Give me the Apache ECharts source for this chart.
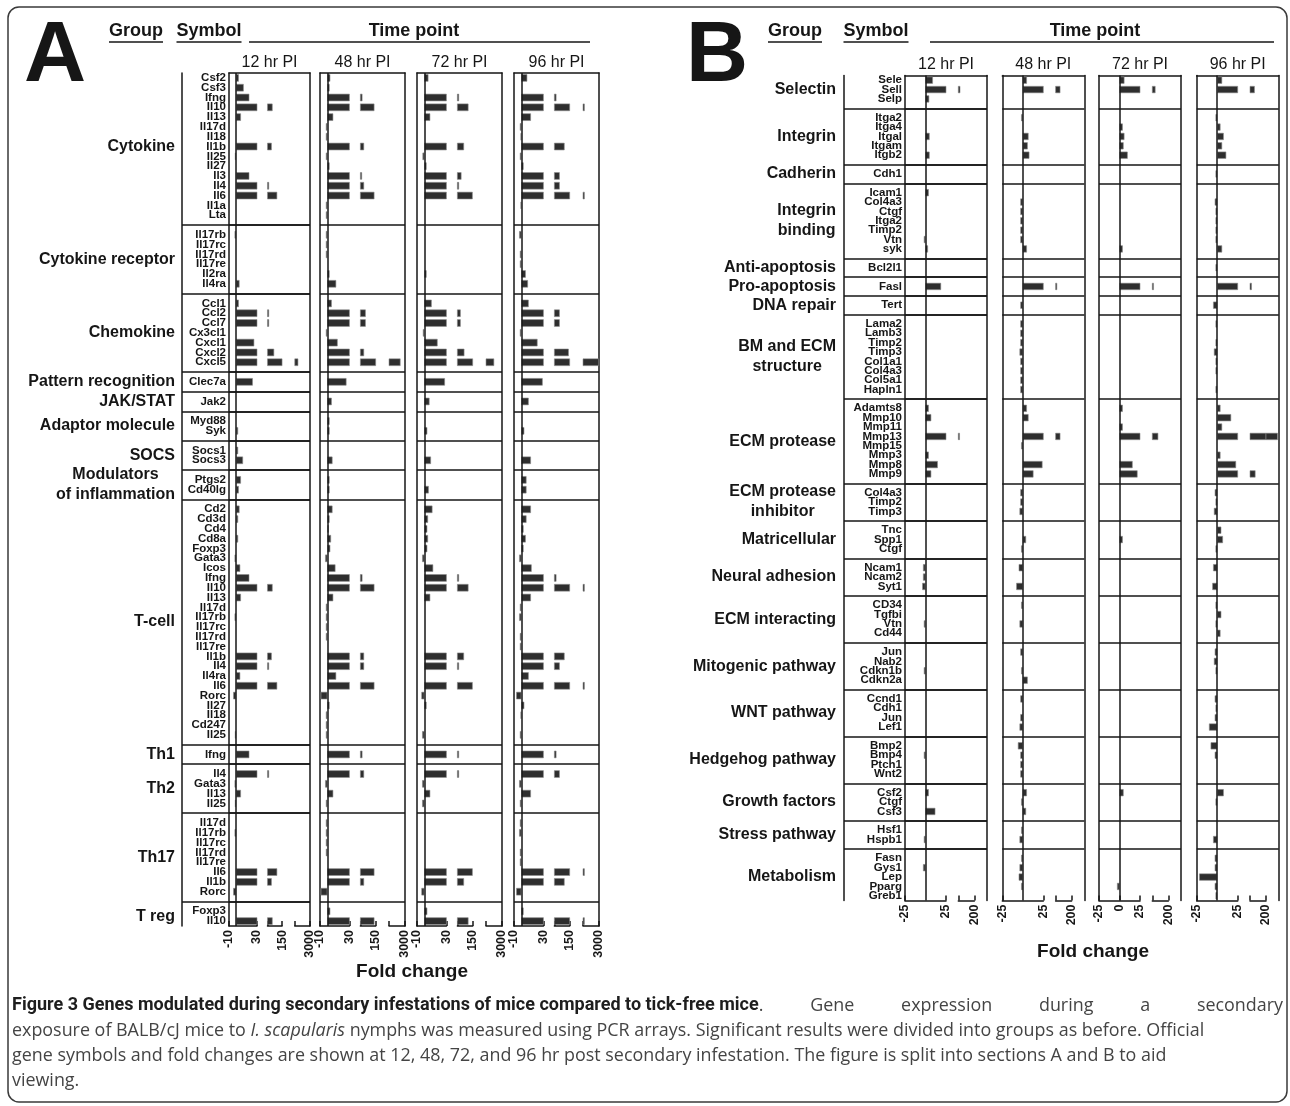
<!DOCTYPE html>
<html>
<head>
<meta charset="utf-8">
<script src="https://cdn.jsdelivr.net/npm/echarts@6/dist/echarts.min.js"></script>
<style>html,body{margin:0;padding:0;background:#fff}#c{width:1290px;height:1106px}</style>
</head>
<body>
<div id="c"></div>
<script>
// ---------------- DATA ----------------
const TIME_POINTS = ['12 hr PI', '48 hr PI', '72 hr PI', '96 hr PI'];

// Panel A
const A_groups = ['Cytokine', 'Cytokine receptor', 'Chemokine', 'Pattern recognition', 'JAK/STAT',
  'Adaptor molecule', 'SOCS', 'Modulators\nof inflammation', 'T-cell', 'Th1', 'Th2', 'Th17', 'T reg'];
const A_groupSizes = [15, 6, 7, 1, 1, 2, 2, 2, 24, 1, 4, 8, 2];
const A_symbols = [
  'Csf2','Csf3','Ifng','Il10','Il13','Il17d','Il18','Il1b','Il25','Il27','Il3','Il4','Il6','Il1a','Lta',
  'Il17rb','Il17rc','Il17rd','Il17re','Il2ra','Il4ra',
  'Ccl1','Ccl2','Ccl7','Cx3cl1','Cxcl1','Cxcl2','Cxcl5',
  'Clec7a',
  'Jak2',
  'Myd88','Syk',
  'Socs1','Socs3',
  'Ptgs2','Cd40lg',
  'Cd2','Cd3d','Cd4','Cd8a','Foxp3','Gata3','Icos','Ifng','Il10','Il13','Il17d','Il17rb','Il17rc','Il17rd','Il17re','Il1b','Il4','Il4ra','Il6','Rorc','Il27','Il18','Cd247','Il25',
  'Ifng',
  'Il4','Gata3','Il13','Il25',
  'Il17d','Il17rb','Il17rc','Il17rd','Il17re','Il6','Il1b','Rorc',
  'Foxp3','Il10'];
const A_12hr = [4, 11, 19, 72, 7, 0, 0, 65, -1.5, 0, 19, 43, 110, 0, 0,
  -2, 0, 0, 0, 0, 5,
  4, 43, 43, 0, 26, 85, 800,
  24,
  0,
  0, 3,
  3, 10,
  7, 4,
  5, 3, 0, 3, 0, -2, 6, 19, 72, 7, 0, -2, 0, 0, 0, 65, 43, 6, 110, -4, 0, 0, 0, -1.5,
  19,
  43, -2, 7, -1.5,
  0, -2, 0, 0, 0, 110, 65, -4,
  0, 72];
const A_48hr = [4, 3, 46, 140, 8, -2, -2, 59, -2, 3, 43, 59, 140, -2, -2,
  -2, -2, -2, 0, 3, 12,
  6, 72, 72, -2, 14, 59, 2200,
  26,
  6,
  3, 3,
  0, 7,
  3, 3,
  7, 3, 2, 5, 4, -3, 11, 46, 140, 8, -2, -2, -2, -2, 0, 59, 59, 12, 140, -9, 3, -2, -2, -2,
  46,
  59, -3, 8, -2,
  -2, -2, -2, -2, 0, 140, 59, -9,
  4, 140];
const A_72hr = [5.5, 0, 43, 117, 8, 0, 0, 82, -2.5, 3, 62, 43, 150, 0, 0,
  0, 0, 0, 0, 3, 0,
  10, 56, 56, -2, 18, 85, 1600,
  28,
  7,
  0, 4,
  0, 9,
  0, 6,
  11, 5, 4, 5, 4, -3, 12, 43, 117, 8, 0, 0, 0, 0, 0, 82, 43, 0, 150, -4, 3, 0, 0, -3,
  43,
  43, -3, 8, -3,
  0, 0, 0, 0, 0, 150, 82, -4,
  4, 117];
const A_96hr = [8, 0, 46, 450, 13, -2, -1, 110, -2, 3, 72, 72, 450, -1, 0,
  -3, 0, -2, -2, 6, 9,
  10, 72, 72, -2, 22, 143, 3000,
  29,
  10,
  0, 4,
  0, 13,
  7, 7,
  13, 7, 3, 6, 3, -3, 14, 46, 450, 13, -2, -3, 0, -2, -2, 110, 72, 10, 450, -7, 4, -1, 0, -2,
  46,
  72, -3, 13, -2,
  -2, -3, 0, -2, -2, 450, 110, -7,
  3, 450];
const A_axisTicks = [-10, 30, 150, 3000];

// Panel B
const B_groups = ['Selectin', 'Integrin', 'Cadherin', 'Integrin\nbinding', 'Anti-apoptosis', 'Pro-apoptosis',
  'DNA repair', 'BM and ECM\nstructure', 'ECM protease', 'ECM protease\ninhibitor', 'Matricellular',
  'Neural adhesion', 'ECM interacting', 'Mitogenic pathway', 'WNT pathway', 'Hedgehog pathway',
  'Growth factors', 'Stress pathway', 'Metabolism'];
const B_groupSizes = [3, 5, 1, 7, 1, 1, 1, 8, 8, 3, 3, 3, 4, 4, 4, 4, 3, 2, 5];
const B_symbols = [
  'Sele','Sell','Selp',
  'Itga2','Itga4','Itgal','Itgam','Itgb2',
  'Cdh1',
  'Icam1','Col4a3','Ctgf','Itga2','Timp2','Vtn','syk',
  'Bcl2l1',
  'Fasl',
  'Tert',
  'Lama2','Lamb3','Timp2','Timp3','Col1a1','Col4a3','Col5a1','Hapln1',
  'Adamts8','Mmp10','Mmp11','Mmp13','Mmp15','Mmp3','Mmp8','Mmp9',
  'Col4a3','Timp2','Timp3',
  'Tnc','Spp1','Ctgf',
  'Ncam1','Ncam2','Syt1',
  'CD34','Tgfbi','Vtn','Cd44',
  'Jun','Nab2','Cdkn1b','Cdkn2a',
  'Ccnd1','Cdh1','Jun','Lef1',
  'Bmp2','Bmp4','Ptch1','Wnt2',
  'Csf2','Ctgf','Csf3',
  'Hsf1','Hspb1',
  'Fasn','Gys1','Lep','Pparg','Greb1'];
const B_12hr = [9, 47, 4.5,
  0, 0, 5, 0, 5,
  0,
  4, 0, 0, 0, 0, -2, 3,
  0,
  19,
  0,
  0, 0, 0, 0, 0, 0, 0, 0,
  4, 7, 0, 42, 0, 4, 15, 7,
  0, 0, 0,
  0, 0, 0,
  -3, -3, -4,
  0, 0, -2, 0,
  0, 0, -2, 0,
  0, 0, 0, 0,
  0, -2, 0, 0,
  4, 0, 12,
  0, -2,
  0, -3, 0, 0, 0];
const B_48hr = [5, 77, 0,
  -2, 0, 7, 6, 8,
  0,
  0, -3, -3, -3, -3, -3, 5,
  0,
  42,
  -3,
  -3, -3, -3, -4, -3, -3, -3, -3,
  5, 7, 0, 77, -2, 0, 24, 13,
  -3, -3, -4,
  0, 4, -2,
  -5, 0, -8,
  -2, 0, -4, 0,
  -3, 0, -2, 6,
  -3, 0, -3, -4,
  -6, -3, -3, -3,
  5, -2, 4,
  -2, -4,
  -2, -4, -5, -2, 0];
const B_72hr = [6, 60, 0,
  0, 4, 6, 5, 10,
  0,
  0, 0, 0, 0, 0, 0, 4,
  0,
  42,
  0,
  0, 0, 0, 0, 0, 0, 0, 0,
  4, 0, 4, 90, 0, 0, 16, 22,
  0, 0, 0,
  0, 4, 0,
  0, 0, 0,
  0, 0, 0, 0,
  0, 0, 0, 0,
  0, 0, 0, 0,
  0, 0, 0, 0,
  5, 0, 0,
  0, 0,
  0, 0, 0, -3, 0];
const B_96hr = [6, 77, 0,
  -2, 4, 8, 6, 11,
  -2,
  0, -3, -2, -2, -2, -2, 6,
  -2,
  45,
  -5,
  -2, 0, -2, -4, -2, -2, 0, -2,
  4, 17, 6, 330, 0, 4, 23, 85,
  -3, -2, -4,
  5, 7, -2,
  -5, 0, -6,
  -2, 5, -2, 4,
  -3, -4, -2, 0,
  -3, -2, -3, -10,
  -8, -3, 0, 0,
  8, -2, 0,
  0, -5,
  -3, -3, -22, -3, -2];
const B_axisTicks = [-25, 25, 200];
const B_extraTick72 = [0];

const CAPTION_BOLD = 'Figure 3 Genes modulated during secondary infestations of mice compared to tick-free mice';
const CAPTION_TAIL1 = '. Gene expression during a secondary';
const CAPTION_LINES = [
  ['exposure of BALB/cJ mice to ', 'I. scapularis', ' nymphs was measured using PCR arrays. Significant results were divided into groups as before. Official'],
  ['gene symbols and fold changes are shown at 12, 48, 72, and 96 hr post secondary infestation. The figure is split into sections A and B to aid'],
  ['viewing.']
];

// ---------------- LAYOUT / STYLE ----------------
const INK = '#161616';
const FONT = "'Liberation Sans', Arial, Helvetica, sans-serif";

const panels = [
  {
    groups: A_groups, sizes: A_groupSizes, symbols: A_symbols,
    values: [A_12hr, A_48hr, A_72hr, A_96hr],
    top: 73, height: 853, symLineX: 182, groupRight: 175,
    colLefts: [229, 320, 417, 514], colWidths: [81, 85, 85, 85],
    segFrac: [[0, 0.346], [0.475, 0.655], [0.812, 1]],
    ticks: A_axisTicks, extraTicks: [[], [], [], []],
    nameGap: 2, labelMargin: 3,
    letter: 'A', letterX: 24,
    headerGroupX: 136, headerSymbolX: 209, headerTimeX: 414, timeLine: [249, 590],
    foldX: 412, foldY: 972
  },
  {
    groups: B_groups, sizes: B_groupSizes, symbols: B_symbols,
    values: [B_12hr, B_48hr, B_72hr, B_96hr],
    top: 75.5, height: 825, symLineX: 844, groupRight: 836,
    colLefts: [905, 1002.3, 1099, 1196.7], colWidths: [82, 82, 82, 82],
    segFrac: [[0, 0.5], [0.65, 0.845], [0.845, 1]],
    ticks: B_axisTicks, extraTicks: [[], [], B_extraTick72, []],
    nameGap: 3, labelMargin: 3,
    letter: 'B', letterX: 686,
    headerGroupX: 795, headerSymbolX: 876, headerTimeX: 1095, timeLine: [930, 1274],
    foldX: 1093, foldY: 952
  }
];

function buildCats(sizes, symbols) {
  const cats = [], rowIdx = [], spacers = [], spans = [];
  let k = 0;
  sizes.forEach((n, g) => {
    const first = cats.length;
    for (let i = 0; i < n; i++) { rowIdx.push(cats.length); cats.push(symbols[k++]); }
    spans.push([first, cats.length - 1]);
    if (g < sizes.length - 1) { spacers.push(cats.length); cats.push(''); }
  });
  return { cats, rowIdx, spacers, spans };
}
function spread(values, L) {
  const arr = L.cats.map(() => '-');
  values.forEach((v, i) => { if (v !== 0) arr[L.rowIdx[i]] = v; });
  return arr;
}
const lineStyle = { color: INK, width: 1.5 };
function sepMarkLine(spacers) {
  return {
    silent: true, symbol: ['none', 'none'], animation: false,
    label: { show: false }, lineStyle: { color: INK, width: 1.5, type: 'solid' },
    emphasis: { disabled: true },
    data: spacers.map(i => ({ yAxis: i }))
  };
}
const zeroMarkLine = {
  silent: true, symbol: ['none', 'none'], animation: false,
  label: { show: false }, lineStyle: { color: INK, width: 1.5, type: 'solid' },
  emphasis: { disabled: true },
  data: [{ xAxis: 0 }]
};

const option = { animation: false, grid: [], xAxis: [], yAxis: [], series: [] };

panels.forEach(P => {
  const L = buildCats(P.sizes, P.symbols);
  P.L = L;
  const hiddenY = (pos) => ({
    type: 'category', data: L.cats, inverse: true, position: pos || 'left',
    axisLine: { show: false, onZero: false }, axisTick: { show: false },
    axisLabel: { show: false }, splitLine: { show: false }
  });
  let gi = option.grid.length;
  option.grid.push({ left: P.symLineX, top: P.top, width: P.colLefts[0] + P.colWidths[0] - P.symLineX, height: P.height });
  option.xAxis.push({ gridIndex: gi, type: 'value', min: 0, max: 1, show: false });
  const ly = option.yAxis.length;
  option.yAxis.push(Object.assign(hiddenY('left'), { gridIndex: gi, axisLine: { show: true, onZero: false, lineStyle } }));
  option.series.push({ type: 'line', xAxisIndex: option.xAxis.length - 1, yAxisIndex: ly, data: L.cats.map(() => '-'), showSymbol: false, silent: true, markLine: sepMarkLine(L.spacers) });
  P.labelYAxis = ly;

  P.values.forEach((vals, c) => {
    const left = P.colLefts[c], w = P.colWidths[c];
    gi = option.grid.length;
    option.grid.push({ left, top: P.top, width: w, height: P.height });
    option.xAxis.push({
      gridIndex: gi, type: 'value', min: 0, max: 1, position: 'top',
      axisLine: { show: true, onZero: false, lineStyle }, axisTick: { show: false }, axisLabel: { show: false },
      splitLine: { show: false }, name: TIME_POINTS[c], nameLocation: 'middle', nameGap: P.nameGap,
      nameTextStyle: { fontFamily: FONT, fontSize: 16, color: INK }
    });
    const fx = option.xAxis.length - 1;
    option.yAxis.push(Object.assign(hiddenY('left'), { gridIndex: gi, axisLine: { show: true, onZero: false, lineStyle } }));
    const fy = option.yAxis.length - 1;
    option.yAxis.push(Object.assign(hiddenY('right'), { gridIndex: gi, axisLine: { show: true, onZero: false, lineStyle } }));
    option.series.push({ type: 'line', xAxisIndex: fx, yAxisIndex: fy, data: L.cats.map(() => '-'), showSymbol: false, silent: true, markLine: sepMarkLine(L.spacers) });

    const data = spread(vals, L);
    P.segFrac.forEach((f, si) => {
      const sg = option.grid.length;
      const sl = left + f[0] * w, sw = (f[1] - f[0]) * w;
      option.grid.push({ left: sl, top: P.top, width: sw, height: P.height });
      let min, max, visible = true, tickVals, labelVals;
      if (si < P.ticks.length - 1) {
        min = P.ticks[si]; max = P.ticks[si + 1];
        tickVals = [min, max].concat(si === 0 ? P.extraTicks[c] : []);
        labelVals = si === 0 ? [min].concat(P.extraTicks[c], [max]) : [max];
      } else {
        const pf = P.segFrac[si - 1];
        const a = P.ticks[P.ticks.length - 2], b = P.ticks[P.ticks.length - 1];
        min = b; max = b + (b - a) * (f[1] - f[0]) / (pf[1] - pf[0]);
        visible = false; tickVals = []; labelVals = [];
      }
      option.xAxis.push({
        gridIndex: sg, type: 'value', min, max, position: 'bottom', show: visible,
        axisLine: { show: true, onZero: false, lineStyle },
        axisTick: { show: true, inside: true, length: 5, customValues: tickVals, lineStyle },
        axisLabel: { show: true, customValues: labelVals, rotate: 90, margin: 4, fontFamily: FONT, fontWeight: 'bold', fontSize: 12.5, color: INK, showMinLabel: true, showMaxLabel: true, formatter: v => String(v) },
        splitLine: { show: false }
      });
      const yax = hiddenY('left');
      yax.gridIndex = sg;
      if (c === 0 && si === 0) {
        yax.axisLabel = { show: true, interval: 0, margin: P.labelMargin, fontFamily: FONT, fontWeight: 'bold', fontSize: 11.5, color: INK, lineHeight: 10 };
      }
      option.yAxis.push(yax);
      option.series.push({
        type: 'bar', xAxisIndex: option.xAxis.length - 1, yAxisIndex: option.yAxis.length - 1,
        data, barWidth: '76%', clip: true, silent: true,
        itemStyle: { color: '#2e2e2e', borderColor: '#8c8c8c', borderWidth: 0.6 },
        markLine: si === 0 ? zeroMarkLine : undefined
      });
    });
  });
});

const chart = echarts.init(document.getElementById('c'), null, { renderer: 'canvas' });
chart.setOption(option);

// ---------------- TEXT (graphic) ----------------
const ctx = document.createElement('canvas').getContext('2d');
const g = [];
g.push({ type: 'rect', shape: { x: 8, y: 7, width: 1279, height: 1095, r: 11 }, style: { fill: 'none', stroke: '#3a3a3a', lineWidth: 1.5 }, z: 0 });

function txt(x, y, text, size, weight, align, extra) {
  return { type: 'text', x, y, z: 10, style: Object.assign({ text, fontFamily: FONT, fontSize: size, fontWeight: weight, fill: INK, align: align || 'center', verticalAlign: 'middle' }, extra || {}) };
}
function hline(x1, x2, y) {
  return { type: 'line', z: 10, shape: { x1, y1: y, x2, y2: y }, style: { stroke: INK, lineWidth: 1.5 } };
}

panels.forEach(P => {
  g.push(txt(P.letterX, 57, P.letter, 86, 'bold', 'left'));
  g.push(txt(P.headerGroupX, 31, 'Group', 18, 'bold'));
  ctx.font = 'bold 18px ' + FONT;
  let w = ctx.measureText('Group').width;
  g.push(hline(P.headerGroupX - w / 2, P.headerGroupX + w / 2, 42));
  g.push(txt(P.headerSymbolX, 31, 'Symbol', 18, 'bold'));
  w = ctx.measureText('Symbol').width;
  g.push(hline(P.headerSymbolX - w / 2, P.headerSymbolX + w / 2, 42));
  g.push(txt(P.headerTimeX, 31, 'Time point', 18, 'bold'));
  g.push(hline(P.timeLine[0], P.timeLine[1], 42));
  g.push(txt(P.foldX, P.foldY, 'Fold change', 19, 'bold'));

  ctx.font = 'bold 16px ' + FONT;
  P.groups.forEach((name, gi) => {
    const sp = P.L.spans[gi];
    const y1 = chart.convertToPixel({ yAxisIndex: P.labelYAxis }, sp[0]);
    const y2 = chart.convertToPixel({ yAxisIndex: P.labelYAxis }, sp[1]);
    const lines = name.split('\n');
    const mw = Math.max.apply(null, lines.map(t => ctx.measureText(t).width));
    g.push(txt(P.groupRight - mw / 2, (y1 + y2) / 2, name, 16, 'bold', 'center', { lineHeight: 20 }));
  });
});

// caption (first line justified to the full width, as in the figure)
const CAP_X = 12, CAP_RIGHT = 1283;
const BOLD_FONT = 'bold 18px Roboto', REG_FONT = "17.9px 'Open Sans'";
ctx.font = BOLD_FONT;
const wBold = ctx.measureText(CAPTION_BOLD).width;
ctx.font = REG_FONT;
const tailWords = CAPTION_TAIL1.split(' ');
const wWords = tailWords.reduce((s, t) => s + ctx.measureText(t).width, 0);
const spW = Math.max(ctx.measureText(' ').width, (CAP_RIGHT - CAP_X - wBold - wWords) / (tailWords.length - 1));
let cap = '{b|' + CAPTION_BOLD + '}';
tailWords.forEach((t, i) => { if (i > 0) cap += '{sp| }'; cap += '{r|' + t + '}'; });
CAPTION_LINES.forEach(parts => {
  cap += '\n';
  parts.forEach(p => {
    const tag = p === 'I. scapularis' ? 'i' : 'r';
    cap += '{' + tag + '|' + p + '}';
  });
});
g.push({
  type: 'text', x: CAP_X, y: 993, z: 10,
  style: {
    text: cap, align: 'left', verticalAlign: 'top', fontSize: 18, lineHeight: 25,
    rich: {
      b: { fontFamily: 'Roboto', fontWeight: 'bold', fontSize: 18, fill: '#1e1e1e', color: '#1e1e1e', lineHeight: 25 },
      r: { fontFamily: "'Open Sans'", fontSize: 17.9, fill: '#444', color: '#444', lineHeight: 25 },
      sp: { fontFamily: "'Open Sans'", fontSize: 17.9, fill: '#444', color: '#444', lineHeight: 25, width: spW },
      i: { fontFamily: "'Open Sans'", fontStyle: 'italic', fontSize: 17.9, fill: '#444', color: '#444', lineHeight: 25 }
    }
  }
});

chart.setOption({ graphic: { elements: g } });
</script>
</body>
</html>
